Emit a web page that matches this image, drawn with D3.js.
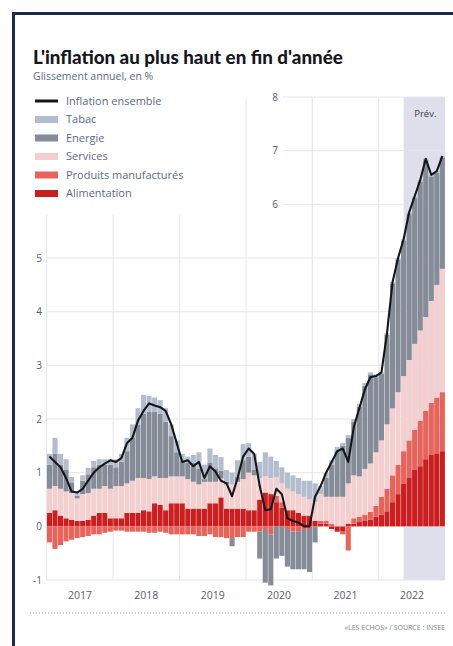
<!DOCTYPE html>
<html>
<head>
<meta charset="utf-8">
<script src="https://cdn.jsdelivr.net/npm/d3@7"></script>
<style>
  html, body { margin: 0; padding: 0; background: #ffffff; }
  svg { display: block; }
</style>
</head>
<body>
<svg id="chart" width="453" height="646"></svg>
<script>
// ---- Data: year-on-year CPI change (%) and contributions by component, Jan 2017 - Dec 2022 ----
const years = [2017, 2018, 2019, 2020, 2021, 2022];
const yTicks = [-1, 0, 1, 2, 3, 4, 5, 6, 7, 8];
const forecastFrom = "2022-05";

const inflation = [
  1.30, 1.20, 1.10, 0.90, 0.65, 0.63, 0.70, 0.85, 1.00, 1.10, 1.17, 1.23,
  1.20, 1.27, 1.55, 1.65, 1.97, 2.15, 2.29, 2.25, 2.22, 2.15, 1.90, 1.55,
  1.20, 1.23, 1.12, 1.20, 0.90, 1.12, 1.02, 0.85, 0.80, 0.56, 0.90, 1.30,
  1.45, 1.35, 0.75, 0.30, 0.32, 0.70, 0.60, 0.15, 0.10, 0.07, 0.00, 0.00,
  0.55, 0.75, 1.00, 1.20, 1.40, 1.45, 1.20, 1.85, 2.20, 2.55, 2.78, 2.80,
  2.87, 3.60, 4.55, 5.00, 5.35, 5.85, 6.15, 6.45, 6.85, 6.55, 6.62, 6.90
];
const alimentation = [
  0.25, 0.30, 0.20, 0.15, 0.12, 0.10, 0.10, 0.12, 0.20, 0.25, 0.25, 0.15,
  0.15, 0.15, 0.25, 0.25, 0.25, 0.30, 0.28, 0.43, 0.40, 0.30, 0.43, 0.43,
  0.43, 0.33, 0.33, 0.33, 0.33, 0.43, 0.43, 0.54, 0.33, 0.33, 0.33, 0.33,
  0.30, 0.30, 0.50, 0.63, 0.60, 0.45, 0.35, 0.30, 0.30, 0.25, 0.20, 0.20,
  0.10, 0.05, 0.05, -0.05, -0.10, -0.10, 0.05, 0.05, 0.08, 0.10, 0.12, 0.18,
  0.22, 0.28, 0.45, 0.60, 0.80, 0.90, 1.05, 1.12, 1.25, 1.33, 1.36, 1.40
];
const manufactures = [
  -0.30, -0.42, -0.35, -0.28, -0.25, -0.22, -0.20, -0.18, -0.15, -0.15, -0.12, -0.10,
  -0.08, -0.08, -0.10, -0.10, -0.10, -0.10, -0.12, -0.12, -0.10, -0.12, -0.15, -0.15,
  -0.15, -0.15, -0.15, -0.18, -0.18, -0.15, -0.20, -0.20, -0.22, -0.22, -0.20, -0.20,
  -0.10, -0.10, -0.10, -0.05, -0.15, 0.12, 0.10, -0.05, -0.10, -0.10, -0.05, -0.05,
  0.00, 0.05, 0.05, 0.05, 0.00, -0.05, -0.45, 0.10, 0.10, 0.12, 0.15, 0.20,
  0.33, 0.42, 0.50, 0.55, 0.60, 0.70, 0.75, 0.85, 0.90, 0.97, 1.04, 1.10
];
const services = [
  0.45, 0.45, 0.50, 0.50, 0.50, 0.42, 0.50, 0.50, 0.50, 0.45, 0.50, 0.55,
  0.60, 0.60, 0.55, 0.60, 0.65, 0.60, 0.60, 0.50, 0.50, 0.60, 0.50, 0.50,
  0.50, 0.55, 0.50, 0.45, 0.50, 0.40, 0.40, 0.35, 0.45, 0.45, 0.50, 0.55,
  0.70, 0.65, 0.40, 0.30, 0.30, 0.35, 0.35, 0.40, 0.35, 0.35, 0.35, 0.30,
  0.35, 0.50, 0.45, 0.50, 0.55, 0.55, 0.75, 0.80, 0.75, 0.85, 0.90, 1.00,
  1.05, 1.20, 1.25, 1.35, 1.40, 1.50, 1.60, 1.68, 1.75, 1.90, 2.10, 2.30
];
const energie = [
  0.45, 0.60, 0.45, 0.40, 0.20, 0.05, 0.25, 0.35, 0.40, 0.45, 0.40, 0.45,
  0.35, 0.45, 0.60, 0.80, 1.00, 1.20, 1.25, 1.20, 1.20, 1.05, 0.75, 0.45,
  0.30, 0.30, 0.35, 0.30, 0.05, 0.35, 0.25, 0.15, 0.05, -0.15, 0.10, 0.35,
  0.30, 0.10, -0.50, -1.00, -0.95, -0.60, -0.55, -0.70, -0.70, -0.70, -0.75, -0.80,
  -0.30, 0.00, 0.35, 0.60, 0.85, 0.95, 0.85, 1.00, 1.30, 1.55, 1.65, 1.40,
  1.24, 1.67, 2.32, 2.47, 2.52, 2.72, 2.72, 2.77, 2.92, 2.32, 2.09, 2.07
];
const tabac = [
  0.20, 0.30, 0.20, 0.20, 0.10, 0.05, 0.10, 0.12, 0.12, 0.10, 0.10, 0.10,
  0.15, 0.15, 0.25, 0.25, 0.30, 0.35, 0.30, 0.27, 0.25, 0.25, 0.22, 0.22,
  0.12, 0.12, 0.15, 0.30, 0.27, 0.27, 0.25, 0.25, 0.22, 0.22, 0.30, 0.30,
  0.25, 0.30, 0.30, 0.45, 0.40, 0.30, 0.30, 0.30, 0.30, 0.30, 0.30, 0.35,
  0.35, 0.15, 0.10, 0.08, 0.08, 0.05, 0.05, 0.05, 0.05, 0.05, 0.05, 0.05,
  0.03, 0.03, 0.03, 0.03, 0.03, 0.03, 0.03, 0.03, 0.03, 0.03, 0.03, 0.03
];

// Stack order: first key sits next to zero
const components = [
  { key: "alimentation", label: "Alimentation",          color: "#cc1d1f", values: alimentation },
  { key: "manufactures", label: "Produits manufacturés", color: "#e8635a", values: manufactures },
  { key: "services",     label: "Services",              color: "#f3d0cf", values: services },
  { key: "energie",      label: "Energie",               color: "#858b97", values: energie },
  { key: "tabac",        label: "Tabac",                 color: "#b3bdcd", values: tabac }
];

const months = years.flatMap(y => d3.range(1, 13).map(m => `${y}-${String(m).padStart(2, "0")}`));
const rows = months.map((m, i) => {
  const r = { month: m, inflation: inflation[i] };
  components.forEach(c => { r[c.key] = c.values[i]; });
  return r;
});

// ---- Layout ----
const svg = d3.select("#chart");
const W = 453, H = 646;
const plot = { left: 46.7, right: 445.1, top: 97, bottom: 580 };
const font = "'Open Sans', 'DejaVu Sans', sans-serif";

const x = d3.scaleBand().domain(months).range([plot.left, plot.right]).paddingInner(0.08).paddingOuter(0.04);
const y = d3.scaleLinear().domain([-1, 8]).range([plot.bottom, plot.top]);
const step = x.step();
const edge = m => x(m) - x.step() * x.paddingInner() / 2; // left boundary of a month slot
const mid = m => x(m) + x.bandwidth() / 2;

svg.append("rect").attr("width", W).attr("height", H).attr("fill", "#ffffff");

// Forecast shading
svg.append("rect")
  .attr("x", mid(forecastFrom)).attr("y", y(8))
  .attr("width", plot.right - mid(forecastFrom)).attr("height", y(-1) - y(8))
  .attr("fill", "#dedfeb");

// Horizontal gridlines and value labels
const grid = svg.append("g");
yTicks.forEach(v => {
  const x0 = v >= 6 ? 283 : plot.left;
  grid.append("line")
    .attr("x1", x0).attr("x2", plot.right)
    .attr("y1", y(v)).attr("y2", y(v))
    .attr("stroke", "#e4e6eb").attr("stroke-width", 1);
  grid.append("text")
    .attr("x", v >= 6 ? 278 : 42).attr("y", y(v)).attr("dy", "0.35em")
    .attr("text-anchor", "end")
    .attr("font-family", font).attr("font-size", 10).attr("fill", "#59606d")
    .text(v);
});

// Vertical gridlines at each January
const januaries = years.map(yv => `${yv}-01`);
januaries.forEach((m, i) => {
  const xx = i === 0 ? plot.left : edge(m);
  grid.append("line")
    .attr("x1", xx).attr("x2", xx)
    .attr("y1", xx < 200 ? y(5.8) : y(8)).attr("y2", y(-1))
    .attr("stroke", "#e4e6eb").attr("stroke-width", 1);
});

// Stacked contribution bars (positives up, negatives down)
const stack = d3.stack()
  .keys(components.map(c => c.key))
  .order(d3.stackOrderNone)
  .offset(d3.stackOffsetDiverging);
const series = stack(rows);

svg.append("g").selectAll("g")
  .data(series)
  .join("g")
  .attr("fill", (s, i) => components[i].color)
  .selectAll("rect")
  .data(s => s)
  .join("rect")
  .attr("x", d => x(d.data.month))
  .attr("width", x.bandwidth())
  .attr("y", d => y(Math.max(d[0], d[1])))
  .attr("height", d => Math.abs(y(d[0]) - y(d[1])));

// Headline inflation line
svg.append("path")
  .datum(rows)
  .attr("fill", "none")
  .attr("stroke", "#15161a")
  .attr("stroke-width", 2.1)
  .attr("stroke-linejoin", "round")
  .attr("d", d3.line().x(d => mid(d.month)).y(d => y(d.inflation)));

// Forecast label
svg.append("text")
  .attr("x", (mid(forecastFrom) + plot.right) / 2 + 1).attr("y", 117)
  .attr("text-anchor", "middle")
  .attr("font-family", font).attr("font-size", 9.5).attr("fill", "#3e4351")
  .text("Prév.");

// Year labels centred on each year
years.forEach(yv => {
  const xc = (edge(`${yv}-01`) + edge(`${yv}-12`) + step) / 2;
  svg.append("text")
    .attr("x", xc).attr("y", 599)
    .attr("text-anchor", "middle")
    .attr("font-family", font).attr("font-size", 10.5).attr("fill", "#59606d")
    .text(yv);
});

// Legend
const legend = svg.append("g");
const legendItems = [{ label: "Inflation ensemble", line: true }]
  .concat(components.slice().reverse().map(c => ({ label: c.label, color: c.color })));
legendItems.forEach((it, i) => {
  const cy = 101 + i * 18.5;
  if (it.line) {
    legend.append("rect").attr("x", 35).attr("y", cy - 1.5).attr("width", 23).attr("height", 3).attr("fill", "#15161a");
  } else {
    legend.append("rect").attr("x", 35).attr("y", cy - 3.5).attr("width", 23).attr("height", 7).attr("fill", it.color);
  }
  legend.append("text")
    .attr("x", 66).attr("y", cy).attr("dy", "0.35em")
    .attr("font-family", font).attr("font-size", 11).attr("fill", "#5c6a8a")
    .text(it.label);
});

// Title and subtitle
const title = svg.append("text")
  .attr("x", 33).attr("y", 64)
  .attr("font-family", "Lato, 'Open Sans', sans-serif").attr("font-weight", 900)
  .attr("font-size", 16).attr("fill", "#16171d")
  .text("L'inflation au plus haut en fin d'année");
const tw = title.node().getComputedTextLength();
title.attr("font-size", 16 * 310 / tw);

svg.append("text")
  .attr("x", 33).attr("y", 80)
  .attr("font-family", font).attr("font-size", 10.5).attr("fill", "#5c6a8a")
  .text("Glissement annuel, en %");

// Footer
svg.append("line")
  .attr("x1", 30).attr("x2", 445).attr("y1", 613).attr("y2", 613)
  .attr("stroke", "#a3a9b5").attr("stroke-width", 1).attr("stroke-dasharray", "1,2");
svg.append("text")
  .attr("x", 445).attr("y", 630).attr("text-anchor", "end")
  .attr("font-family", font).attr("font-size", 7).attr("fill", "#7b8496")
  .text("«LES ECHOS» / SOURCE : INSEE");

// Frame
svg.append("path")
  .attr("d", `M13.5,${H} V13.5 H${W}`)
  .attr("fill", "none").attr("stroke", "#1b2a4e").attr("stroke-width", 3);
</script>
</body>
</html>
